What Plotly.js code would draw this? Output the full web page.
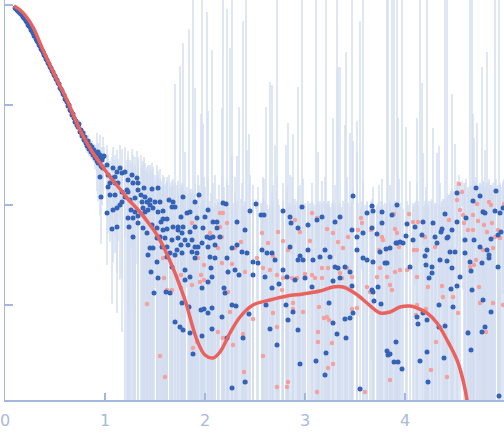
<!DOCTYPE html>
<html>
<head>
<meta charset="utf-8">
<script src="https://cdn.plot.ly/plotly-3.0.1.min.js"></script>
<style>html,body{margin:0;padding:0;background:#fff}#chart{width:504px;height:438px}</style>
</head>
<body>
<div id="chart"></div>
<script>
// Scattering vector s (nm^-1), log10 intensity and log10 of the upper end of each error bar.
// Positive intensities (blue): [s, log10 I, log10 (I + err)]
const positivePoints = [
[0.10,-0.03,-0.02],[0.11,-0.04,-0.03],[0.12,-0.05,-0.04],[0.13,-0.06,-0.05],[0.14,-0.07,-0.06],[0.15,-0.08,-0.07],[0.16,-0.09,-0.08],[0.17,-0.10,-0.09],[0.18,-0.12,-0.11],[0.19,-0.13,-0.12],
[0.20,-0.14,-0.13],[0.21,-0.16,-0.15],[0.22,-0.17,-0.16],[0.23,-0.20,-0.19],[0.24,-0.21,-0.20],[0.25,-0.22,-0.21],[0.26,-0.25,-0.24],[0.27,-0.26,-0.25],[0.28,-0.28,-0.27],[0.29,-0.31,-0.30],
[0.30,-0.30,-0.29],[0.31,-0.34,-0.33],[0.32,-0.36,-0.35],[0.33,-0.37,-0.36],[0.34,-0.40,-0.39],[0.35,-0.41,-0.40],[0.36,-0.44,-0.43],[0.37,-0.45,-0.44],[0.38,-0.47,-0.46],[0.39,-0.50,-0.49],
[0.40,-0.51,-0.50],[0.41,-0.54,-0.53],[0.42,-0.55,-0.54],[0.43,-0.58,-0.57],[0.44,-0.59,-0.58],[0.45,-0.62,-0.61],[0.46,-0.63,-0.62],[0.47,-0.66,-0.65],[0.48,-0.67,-0.66],[0.49,-0.70,-0.69],
[0.50,-0.71,-0.69],[0.51,-0.74,-0.72],[0.52,-0.75,-0.73],[0.53,-0.78,-0.76],[0.54,-0.79,-0.77],[0.55,-0.83,-0.81],[0.56,-0.84,-0.82],[0.57,-0.86,-0.84],[0.58,-0.89,-0.87],[0.59,-0.90,-0.88],
[0.60,-0.94,-0.92],[0.61,-0.95,-0.93],[0.62,-0.97,-0.95],[0.63,-1.01,-0.99],[0.64,-1.00,-0.98],[0.65,-1.05,-1.03],[0.66,-1.06,-1.04],[0.67,-1.10,-1.08],[0.68,-1.09,-1.07],[0.69,-1.13,-1.11],
[0.70,-1.17,-1.13],[0.71,-1.16,-1.12],[0.72,-1.20,-1.16],[0.73,-1.22,-1.18],[0.74,-1.19,-1.15],[0.75,-1.27,-1.23],[0.76,-1.25,-1.21],[0.77,-1.31,-1.27],[0.78,-1.28,-1.24],[0.79,-1.35,-1.31],
[0.80,-1.32,-1.26],[0.81,-1.38,-1.32],[0.82,-1.41,-1.35],[0.83,-1.36,-1.30],[0.84,-1.44,-1.38],[0.85,-1.40,-1.34],[0.86,-1.47,-1.41],[0.87,-1.42,-1.36],[0.88,-1.50,-1.44],[0.89,-1.45,-1.39],
[0.90,-1.53,-1.44],[0.91,-1.49,-1.40],[0.92,-1.56,-1.47],[0.93,-1.47,-1.38],[0.94,-1.58,-1.49],[0.95,-1.52,-1.43],[0.96,-1.61,-1.52],[0.97,-1.55,-1.46],[0.98,-1.63,-1.54],[0.99,-1.51,-1.42],
[0.92,-1.48,-1.28],[0.93,-1.58,-1.38],[0.95,-1.50,-1.30],[0.95,-1.72,-1.52],[0.96,-1.92,-1.70],[0.97,-1.62,-1.42],[0.98,-1.52,-1.32],[1.02,-1.60,-1.40],[1.02,-2.08,-1.85],[1.03,-1.70,-1.50],
[1.03,-1.82,-1.60],[1.05,-1.78,-1.56],[1.05,-1.90,-1.68],[1.07,-1.73,-1.52],[1.07,-2.24,-1.98],[1.08,-1.63,-1.42],[1.08,-2.05,-1.82],[1.10,-1.72,-1.50],[1.10,-1.78,-1.55],[1.10,-1.90,-1.66],
[1.12,-1.67,-1.45],[1.12,-2.03,-1.78],[1.12,-2.22,-1.95],[1.13,-1.78,-1.54],[1.15,-1.63,-1.40],[1.15,-2.00,-1.74],[1.17,-1.68,-1.44],[1.17,-1.87,-1.60],[1.17,-1.97,-1.68],[1.20,-1.67,-1.42],
[1.20,-1.92,-1.62],[1.22,-1.85,-1.55],[1.23,-1.75,-1.46],[1.23,-1.87,-1.52],[1.23,-2.13,-1.60],[1.24,-2.22,-1.65],[1.25,-1.95,-1.55],[1.26,-2.05,-1.58],[1.27,-1.70,-1.44],[1.28,-1.78,-1.50],
[1.28,-2.13,-1.62],[1.28,-2.32,-1.66],[1.30,-1.93,-1.52],[1.30,-2.07,-1.60],[1.32,-1.73,-1.46],[1.33,-1.78,-1.52],[1.33,-1.85,-1.55],[1.33,-2.11,-1.62],[1.33,-2.18,-1.58],[1.36,-1.90,-1.50],
[1.37,-1.97,-1.60],[1.38,-2.03,-1.64],[1.38,-2.23,-1.56],[1.39,-1.83,-1.52],[1.40,-1.92,-1.58],[1.40,-2.07,-1.66],[1.42,-1.97,-1.62],[1.42,-2.28,-1.70],[1.43,-2.05,-1.60],[1.43,-2.50,-1.68],
[1.45,-1.95,-1.64],[1.45,-2.00,-1.60],[1.45,-2.43,-1.72],[1.46,-2.67,-1.66],[1.47,-1.84,-1.58],[1.47,-2.20,-1.74],[1.48,-2.03,-1.68],[1.48,-2.43,-1.62],[1.49,-2.88,-1.76],[1.50,-1.97,-1.70],
[1.52,-2.23,-1.72],[1.52,-2.33,-1.60],[1.52,-2.57,-1.78],[1.53,-1.83,-1.66],[1.53,-2.07,-1.74],[1.53,-2.73,-1.70],[1.55,-1.97,-1.78],[1.55,-2.32,-1.64],[1.56,-2.17,-1.76],[1.57,-2.42,-1.82],
[1.58,-2.06,-1.70],[1.58,-2.14,-1.80],[1.58,-2.25,-1.74],[1.60,-2.33,-1.86],[1.61,-2.87,-1.78],[1.62,-2.14,-1.72],[1.62,-2.24,-1.84],[1.62,-2.42,-1.80],[1.62,-2.52,-1.76],[1.64,-1.95,-1.70],
[1.65,-2.48,-1.82],[1.65,-2.88,-1.78],[1.67,-2.02,-1.84],[1.67,-2.35,-1.76],[1.67,-2.62,-1.88],[1.68,-1.97,-1.74],[1.68,-2.22,-1.80],[1.70,-2.02,-1.78],[1.70,-2.50,-0.79],[1.70,-3.17,-1.86],
[1.72,-2.45,-1.80],[1.73,-2.22,-1.84],[1.73,-2.25,-1.76],[1.73,-2.33,-1.90],[1.75,-3.22,-0.61],[1.76,-2.12,-1.82],[1.76,-2.40,-1.88],[1.77,-2.28,-1.78],[1.77,-2.48,-1.86],[1.77,-2.98,-1.84],
[1.78,-1.92,-0.38],[1.78,-2.22,-1.80],[1.78,-3.25,-1.92],[1.80,-2.35,-1.47],[1.80,-2.65,-1.86],[1.80,-2.75,-1.90],[1.82,-2.08,-1.82],[1.83,-2.40,-1.88],[1.84,-3.02,-0.24],[1.85,-2.07,-1.86],
[1.85,-2.27,-1.92],[1.85,-2.72,-1.84],[1.85,-3.28,-1.90],[1.87,-2.35,-1.88],[1.87,-2.47,-1.94],[1.88,-3.49,0.30],[1.90,-1.97,-0.83],[1.90,-2.22,-2.00],[1.90,-2.42,-1.96],[1.90,-2.53,-1.78],
[1.92,-2.13,-2.02],[1.92,-2.48,-1.98],[1.93,-2.42,-1.70],[1.94,-1.90,-1.80],[1.96,-3.05,-1.09],[1.97,-2.38,0.30],[1.97,-2.83,-2.00],[1.97,-3.31,-1.94],[1.98,-2.23,-1.19],[1.99,-3.04,-2.04],
[2.00,-2.12,-1.82],[2.02,-2.32,-0.07],[2.03,-2.05,-1.06],[2.03,-2.42,-1.98],[2.03,-2.77,-2.02],[2.03,-3.08,-1.74],[2.05,-2.33,-1.96],[2.05,-2.52,-2.00],[2.06,-2.63,-1.88],[2.07,-2.72,-0.45],
[2.07,-3.03,-2.00],[2.07,-3.24,-1.96],[2.08,-2.17,-1.78],[2.08,-2.32,-2.02],[2.10,-2.40,-1.98],[2.10,-2.53,-1.70],[2.12,-2.17,-2.00],[2.12,-2.23,-1.94],[2.15,-2.32,-2.04],[2.17,-3.12,-1.03],
[2.18,-1.98,0.30],[2.19,-2.83,-1.82],[2.21,-1.99,-1.98],[2.20,-2.88,-2.02],[2.22,-2.53,-0.04],[2.22,-3.33,-1.74],[2.23,-2.67,-1.96],[2.27,-2.43,-2.00],[2.27,-3.00,-1.50],[2.27,-3.83,0.30],
[2.30,-2.65,-1.88],[2.31,-3.01,-2.00],[2.32,-2.17,-1.51],[2.32,-2.40,-1.96],[2.34,-2.70,-1.02],[2.37,-2.47,-1.78],[2.38,-3.33,-0.16],[2.40,-2.25,-2.02],[2.40,-3.77,-1.98],[2.42,-2.48,-1.45],
[2.44,-3.09,-1.29],[2.45,-2.06,-1.70],[2.48,-2.57,-2.00],[2.48,-2.70,-1.94],[2.51,-1.99,-2.04],[2.53,-2.58,-1.82],[2.56,-2.10,-1.98],[2.57,-2.45,-2.02],[2.59,-2.10,-1.74],[2.60,-2.72,-1.96],
[2.61,-3.00,-1.02],[2.62,-2.48,-2.00],[2.65,-3.24,-0.77],[2.67,-2.48,-1.88],[2.67,-2.83,-0.80],[2.70,-2.55,-1.40],[2.72,-3.40,0.30],[2.74,-2.79,-2.00],[2.78,-2.06,-1.96],[2.78,-2.65,-1.78],
[2.81,-3.00,-1.40],[2.82,-2.72,-2.02],[2.83,-3.15,-1.18],[2.85,-2.12,-1.98],[2.85,-2.42,-1.70],[2.86,-2.18,-2.00],[2.88,-3.07,-1.29],[2.90,-2.75,-1.94],[2.93,-2.23,-0.82],[2.93,-2.55,-2.04],
[2.93,-3.25,-1.82],[2.95,-2.51,-1.98],[2.95,-3.59,-2.02],[2.97,-2.02,0.30],[2.98,-2.55,-1.74],[3.00,-2.73,-1.98],[3.03,-2.20,-2.00],[3.03,-2.45,-1.96],[3.07,-2.82,-1.78],[3.08,-2.55,-1.98],
[3.11,-3.56,0.30],[3.12,-2.15,-2.00],[3.15,-2.52,-1.96],[3.17,-2.12,-2.02],[3.20,-2.45,-1.72],[3.20,-3.70,-2.00],[3.21,-3.48,0.30],[3.24,-2.98,-1.96],[3.25,-2.52,-2.02],[3.28,-2.76,-1.13],
[3.28,-3.18,-2.00],[3.30,-2.17,-1.98],[3.30,-2.62,-1.80],[3.32,-3.29,0.30],[3.33,-2.63,-0.62],[3.35,-2.12,-0.62],[3.35,-2.73,-2.00],[3.40,-2.62,-1.98],[3.40,-3.14,-1.20],[3.41,-3.33,-0.47],
[3.45,-2.67,-1.28],[3.45,-3.13,-2.02],[3.47,-2.25,0.30],[3.47,-2.81,-1.98],[3.48,-1.91,-1.84],[3.48,-3.08,-1.36],[3.52,-2.32,-1.16],[3.52,-2.45,-1.47],[3.55,-3.84,-0.16],[3.58,-2.28,0.30],
[3.58,-2.53,-1.76],[3.62,-2.08,-1.96],[3.62,-2.55,-2.02],[3.67,-2.01,-1.94],[3.67,-2.23,-2.00],[3.67,-2.85,-2.04],[3.68,-2.06,-1.98],[3.68,-2.57,-2.02],[3.68,-2.87,-1.82],[3.69,-2.96,-2.00],
[3.72,-2.29,-2.04],[3.73,-2.82,-1.98],[3.75,-2.47,-2.02],[3.76,-2.99,-1.96],[3.77,-2.07,-2.00],[3.77,-2.18,-1.74],[3.80,-2.58,-1.98],[3.81,-2.44,-2.02],[3.82,-2.58,0.30],[3.82,-3.46,-2.00],
[3.83,-3.50,0.30],[3.85,-2.43,-1.98],[3.85,-3.49,-1.80],[3.87,-2.10,0.30],[3.89,-3.57,0.30],[3.91,-2.38,-2.00],[3.91,-3.37,-1.96],[3.92,-2.00,0.30],[3.92,-2.38,-2.02],[3.93,-3.57,-1.13],
[3.95,-2.37,-1.98],[3.97,-3.64,0.30],[3.98,-2.38,-2.04],[4.01,-2.31,-1.22],[4.02,-2.19,-2.00],[4.05,-2.62,-1.76],[4.08,-2.35,-2.02],[4.10,-2.22,-1.98],[4.12,-3.12,-1.13],[4.13,-3.19,-2.00],
[4.15,-3.56,0.30],[4.17,-2.30,-0.78],[4.18,-2.17,-2.02],[4.18,-3.08,-1.48],[4.20,-2.51,-1.96],[4.21,-2.60,-1.82],[4.22,-3.15,0.30],[4.22,-2.45,-2.04],[4.22,-3.47,-1.98],[4.23,-3.77,-2.02],
[4.24,-2.73,-1.96],[4.27,-2.62,-2.00],[4.27,-2.68,-1.94],[4.28,-2.18,-1.23],[4.30,-2.32,-1.98],[4.32,-2.38,-1.48],[4.34,-3.00,-1.41],[4.34,-3.22,-2.00],[4.35,-2.55,-1.78],[4.36,-2.27,-2.02],
[4.37,-2.24,-1.98],[4.39,-3.53,-1.94],[4.40,-2.09,0.30],[4.40,-3.21,-1.96],[4.42,-2.33,0.30],[4.42,-2.56,-1.92],[4.43,-2.32,-1.90],[4.45,-2.47,-1.88],[4.46,-2.84,-1.86],[4.47,-2.25,-0.89],
[4.47,-2.63,-1.84],[4.48,-3.02,-1.88],[4.50,-2.47,-1.39],[4.52,-1.88,-1.76],[4.52,-2.17,-1.84],[4.52,-2.81,-1.80],[4.55,-2.72,-1.86],[4.60,-2.35,-1.78],[4.60,-2.48,-1.82],[4.61,-2.13,-1.74],
[4.63,-3.28,-1.84],[4.65,-2.57,0.30],[4.66,-2.66,-1.80],[4.66,-3.45,-1.86],[4.67,-2.85,0.30],[4.68,-1.96,-1.09],[4.69,-2.35,-1.33],[4.71,-1.83,-1.72],[4.75,-1.91,-1.78],[4.75,-2.42,-1.84],
[4.77,-2.58,-0.62],[4.77,-3.27,-1.80],[4.78,-2.07,-1.86],[4.78,-2.95,-1.76],[4.80,-2.08,-1.45],[4.80,-3.22,-1.82],[4.82,-2.45,-0.47],[4.84,-2.50,-1.78],[4.84,-2.53,-1.84],[4.86,-2.34,-1.80],
[4.86,-3.07,-1.86],[4.90,-2.06,0.30],[4.91,-1.86,-1.74],[4.93,-2.30,-1.80],[4.93,-2.62,-1.84],[4.94,-3.91,0.30],[4.95,-2.08,-1.78],[4.96,-2.27,-1.82],[4.98,-2.03,-1.76]
];

// Negative intensities (pink), plotted at |I|: [s, log10 |I|, log10 (|I| + err)]
const negativePoints = [
[1.42,-2.99,-1.66],[1.55,-3.51,-1.74],[1.58,-2.53,-1.78],[1.59,-2.73,-1.72],[1.60,-3.72,-1.80],[1.62,-2.85,-1.76],[1.67,-2.85,-1.82],[1.76,-2.70,-1.86],[1.76,-2.83,-1.80],[1.87,-2.18,-1.90],
[1.87,-2.80,-1.84],[1.88,-3.43,-1.88],[1.92,-2.48,-2.00],[1.92,-3.37,-1.96],[1.93,-2.53,-1.80],[1.95,-2.77,-2.02],[1.96,-2.70,-1.98],[1.99,-2.60,-1.72],[1.99,-2.75,-1.94],[2.05,-2.28,-2.04],
[2.13,-2.43,-2.00],[2.13,-3.27,-1.96],[2.14,-2.32,-1.80],[2.15,-2.08,-2.02],[2.15,-2.22,-1.98],[2.17,-2.32,-1.72],[2.17,-2.58,-1.94],[2.18,-2.08,-2.04],[2.18,-3.33,-2.00],[2.22,-2.18,-1.96],
[2.23,-2.87,-1.80],[2.25,-3.07,-0.43],[2.27,-2.59,-2.02],[2.28,-3.40,-1.98],[2.30,-2.43,-1.72],[2.36,-2.37,-1.94],[2.38,-3.29,-2.04],[2.39,-3.67,-2.00],[2.40,-2.67,-1.96],[2.41,-3.77,0.30],
[2.48,-3.14,-1.80],[2.52,-2.53,-2.02],[2.57,-2.28,-1.98],[2.58,-2.63,-1.72],[2.58,-3.51,-1.94],[2.63,-2.38,-2.04],[2.65,-2.65,-2.00],[2.68,-2.51,-1.96],[2.68,-3.08,-1.80],[2.72,-2.70,-2.02],
[2.72,-3.22,-1.98],[2.72,-3.82,-1.72],[2.73,-2.27,-1.94],[2.77,-2.85,-2.04],[2.78,-2.36,-2.00],[2.78,-2.73,-1.96],[2.82,-3.82,-1.80],[2.83,-2.45,-2.02],[2.83,-3.77,-1.98],[2.87,-2.73,-1.72],
[2.88,-2.98,-1.94],[2.88,-3.04,-2.04],[2.90,-2.15,-2.00],[2.92,-2.73,-1.96],[2.95,-2.27,-1.80],[2.98,-3.07,-1.96],[3.00,-2.69,-2.00],[3.05,-2.36,-1.98],[3.07,-2.08,-2.02],[3.07,-2.70,-1.96],
[3.10,-2.73,-2.00],[3.12,-2.13,-1.98],[3.12,-3.87,-2.02],[3.13,-3.27,-1.47],[3.13,-3.37,-1.96],[3.14,-3.02,-2.00],[3.17,-2.73,-1.98],[3.17,-2.63,-1.76],[3.19,-3.13,-1.96],[3.22,-2.24,-2.00],
[3.22,-3.12,-1.98],[3.23,-2.63,-2.02],[3.23,-3.63,-1.96],[3.24,-3.15,-2.00],[3.27,-3.38,-1.98],[3.28,-2.28,-2.02],[3.28,-3.59,-1.96],[3.33,-2.37,-2.00],[3.35,-2.68,-1.98],[3.37,-2.73,-2.02],
[3.38,-2.43,-1.96],[3.42,-2.63,-1.72],[3.43,-2.32,-1.98],[3.47,-2.72,-2.02],[3.47,-3.04,-1.96],[3.52,-3.03,-2.00],[3.53,-2.25,-1.98],[3.56,-2.13,-2.02],[3.57,-2.18,-1.96],[3.60,-3.87,-2.00],
[3.62,-2.82,-1.98],[3.65,-2.87,-2.02],[3.66,-2.25,-1.96],[3.72,-2.72,-2.00],[3.74,-2.45,-1.80],[3.75,-2.63,-2.02],[3.77,-2.32,-1.96],[3.78,-2.35,-2.00],[3.82,-2.72,-1.98],[3.85,-2.80,-2.02],
[3.85,-3.75,-1.96],[3.87,-2.85,-2.00],[3.89,-2.09,-1.98],[3.90,-2.24,-2.02],[3.90,-2.67,-1.96],[3.92,-2.28,-2.00],[3.94,-2.42,-1.74],[3.95,-2.65,-2.02],[4.02,-2.65,-1.96],[4.04,-2.09,-2.00],
[4.08,-2.17,-1.98],[4.09,-2.45,-2.02],[4.11,-3.10,-1.96],[4.12,-2.45,-2.00],[4.12,-2.72,-1.78],[4.12,-3.00,-2.02],[4.13,-2.17,-1.96],[4.20,-2.32,-2.00],[4.21,-3.04,-1.98],[4.23,-2.82,-2.02],
[4.26,-3.65,-1.96],[4.30,-2.42,-2.00],[4.31,-3.37,-1.98],[4.37,-2.81,-1.96],[4.38,-2.92,-1.94],[4.42,-3.72,-1.92],[4.44,-2.15,-1.90],[4.48,-2.92,-1.86],[4.52,-1.95,-1.82],[4.53,-3.08,-1.86],
[4.54,-1.79,-1.70],[4.55,-2.05,-1.80],[4.57,-1.87,-1.76],[4.58,-2.10,-1.84],[4.59,-2.18,-1.78],[4.63,-2.25,-1.82],[4.63,-3.27,-1.86],[4.65,-2.62,-1.80],[4.68,-2.10,-1.78],[4.68,-2.25,-1.84],
[4.69,-2.60,-1.76],[4.71,-2.55,-1.82],[4.72,-1.99,-1.18],[4.73,-2.16,-1.80],[4.74,-2.82,-1.86],[4.75,-2.98,-1.78],[4.78,-2.06,-1.82],[4.78,-2.45,-1.76],[4.79,-2.20,-1.84],[4.81,-3.27,-1.80],
[4.82,-2.27,-1.78],[4.84,-1.97,-1.74],[4.86,-2.00,-1.80],[4.87,-2.18,-1.84],[4.88,-2.43,-1.78],[4.88,-2.98,-1.82],[4.90,-2.32,-1.76],[4.93,-2.25,-1.84],[4.95,-2.33,-1.80],[4.98,-3.00,-1.78],
[4.99,-1.99,-1.74]
];

// Model fit curve
const fitS = [0.09,0.15,0.20,0.28,0.38,0.52,0.62,0.75,0.88,0.95,1.05,1.15,1.22,1.35,1.45,1.52,1.60,1.70,1.80,1.92,2.00,2.08,2.15,2.25,2.35,2.48,2.65,2.82,2.98,3.15,3.28,3.38,3.48,3.55,3.62,3.75,3.85,3.95,4.05,4.12,4.22,4.32,4.42,4.52,4.58,4.62,4.66];
const fitLog = [-0.01,-0.05,-0.10,-0.22,-0.45,-0.75,-0.95,-1.25,-1.48,-1.58,-1.72,-1.84,-1.93,-2.07,-2.20,-2.30,-2.45,-2.68,-2.95,-3.35,-3.50,-3.53,-3.47,-3.28,-3.12,-3.00,-2.95,-2.91,-2.89,-2.86,-2.82,-2.82,-2.87,-2.92,-2.98,-3.08,-3.07,-3.02,-3.01,-3.03,-3.08,-3.18,-3.35,-3.55,-3.75,-3.95,-4.30];

const xTickVals = [0, 1, 2, 3, 4];
const xTickText = ['0', '1', '2', '3', '4'];

function unpack(rows) {
  const x = [], y = [], err = [];
  rows.forEach(r => {
    const v = Math.pow(10, r[1]);
    x.push(r[0]); y.push(v); err.push(Math.pow(10, r[2]) - v);
  });
  return {x, y, err};
}
const pos = unpack(positivePoints);
const neg = unpack(negativePoints);
const all = {x: pos.x.concat(neg.x), y: pos.y.concat(neg.y), err: pos.err.concat(neg.err)};

const axisColor = '#a3b7de';
const traces = [
  {
    x: all.x, y: all.y, type: 'scatter', mode: 'markers',
    marker: {size: 1, color: 'rgba(0,0,0,0)'},
    error_y: {type: 'data', array: all.err, symmetric: true, color: '#d3ddf0', thickness: 1.4, width: 0},
    hoverinfo: 'skip', showlegend: false
  },
  {
    x: neg.x, y: neg.y, type: 'scatter', mode: 'markers',
    marker: {size: 4.5, color: '#f3a09e'}, showlegend: false
  },
  {
    x: pos.x, y: pos.y, type: 'scatter', mode: 'markers',
    marker: {size: 5, color: '#3462b6'}, showlegend: false
  },
  {
    x: fitS, y: fitLog.map(v => Math.pow(10, v)), type: 'scatter', mode: 'lines',
    line: {color: '#ea625e', width: 3.5, shape: 'spline', smoothing: 1}, showlegend: false
  }
];

const layout = {
  width: 504, height: 438,
  margin: {l: 5, r: 0, t: 0, b: 38, pad: 0},
  paper_bgcolor: '#ffffff', plot_bgcolor: '#ffffff',
  showlegend: false,
  xaxis: {
    range: [0, 4.99], showgrid: false, zeroline: false,
    showline: true, linecolor: axisColor, linewidth: 1.5,
    ticks: 'inside', ticklen: 7, tickwidth: 1.5, tickcolor: axisColor,
    tickmode: 'array', tickvals: xTickVals, ticktext: xTickText,
    ticklabeloverflow: 'allow', ticklabelstandoff: 5,
    tickfont: {family: 'DejaVu Sans', size: 16, color: '#a8bade'}
  },
  yaxis: {
    type: 'log', range: [-3.95, 0.05], showgrid: false, zeroline: false,
    showline: true, linecolor: axisColor, linewidth: 1.5,
    ticks: 'inside', ticklen: 8, tickwidth: 1.5, tickcolor: axisColor,
    dtick: 1, showticklabels: false
  }
};

Plotly.newPlot('chart', traces, layout, {displayModeBar: false, staticPlot: true});
</script>
</body>
</html>
